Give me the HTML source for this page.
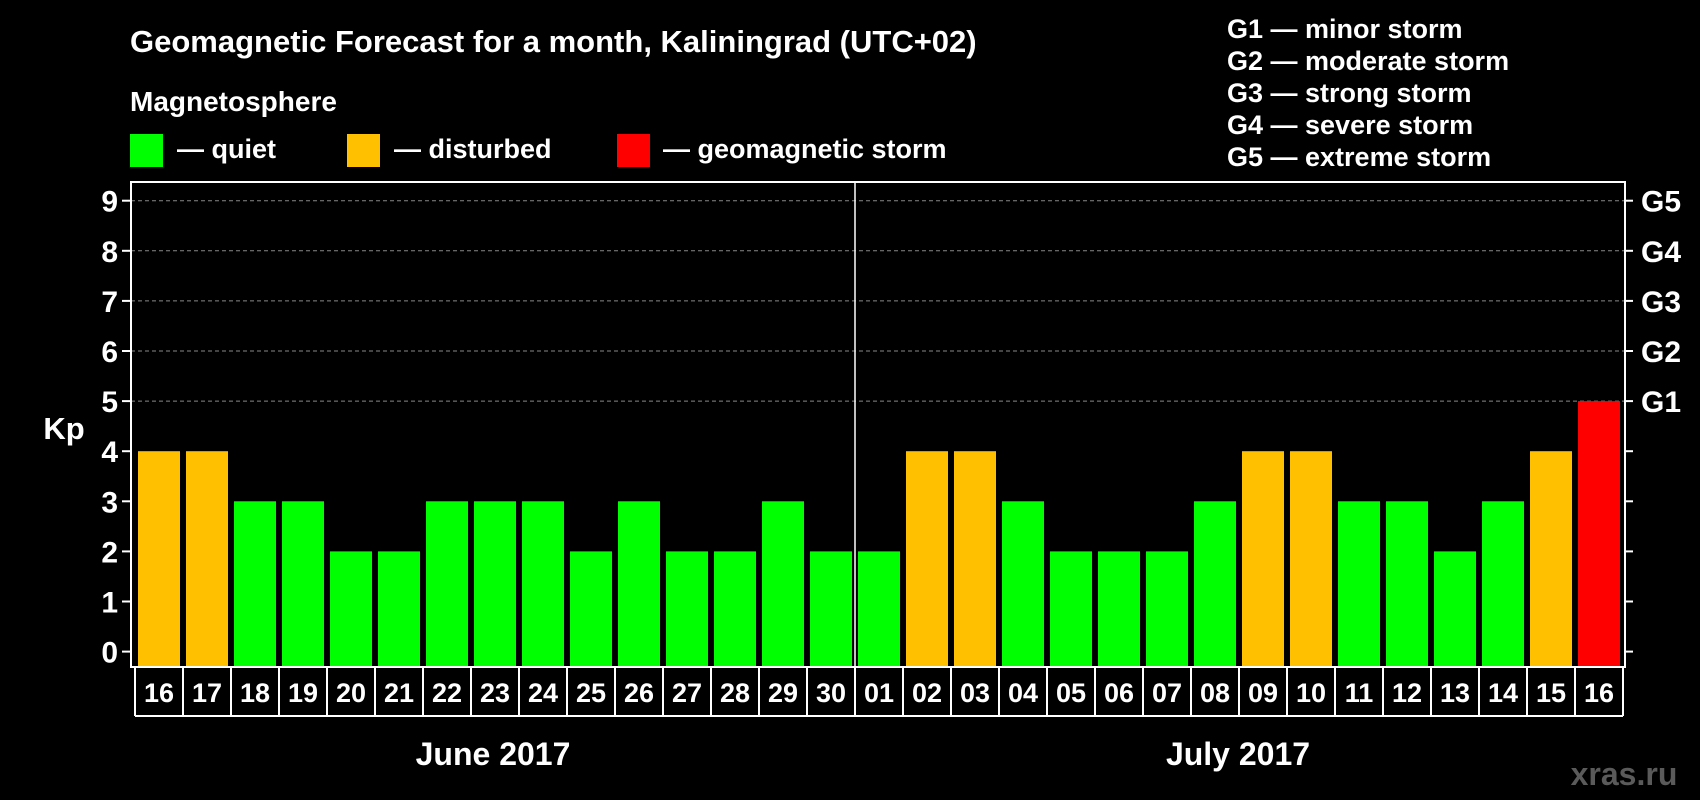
<!DOCTYPE html>
<html><head><meta charset="utf-8"><style>
body{margin:0;background:#000;width:1700px;height:800px;overflow:hidden}
svg{display:block}
text{font-family:"Liberation Sans",Arial,sans-serif;font-weight:bold;fill:#fff}
</style></head><body>
<svg id="chart" width="1700" height="800">
<text x="130" y="52" font-size="31">Geomagnetic Forecast for a month, Kaliningrad (UTC+02)</text>
<text x="130" y="111" font-size="28">Magnetosphere</text>
<rect x="130" y="134" width="33" height="33" fill="#00ff00"/>
<text x="177" y="158" font-size="27">— quiet</text>
<rect x="347" y="134" width="33" height="33" fill="#ffc000"/>
<text x="394" y="158" font-size="27">— disturbed</text>
<rect x="617" y="134" width="33" height="33" fill="#ff0000"/>
<text x="663" y="158" font-size="27">— geomagnetic storm</text>
<g font-size="27">
<text x="1227" y="38">G1 — minor storm</text>
<text x="1227" y="70">G2 — moderate storm</text>
<text x="1227" y="102">G3 — strong storm</text>
<text x="1227" y="134">G4 — severe storm</text>
<text x="1227" y="166">G5 — extreme storm</text>
</g>
<text x="64" y="439" font-size="31" text-anchor="middle">Kp</text>
<g id="plot"></g>
<text x="493" y="765" font-size="32" text-anchor="middle">June 2017</text>
<text x="1238" y="765" font-size="32" text-anchor="middle">July 2017</text>
<text x="1624" y="785" font-size="32" text-anchor="middle" style="fill:#5a5a5a">xras.ru</text>
</svg>
<script>
const days=["16","17","18","19","20","21","22","23","24","25","26","27","28","29","30","01","02","03","04","05","06","07","08","09","10","11","12","13","14","15","16"];
const kpValues=[4,4,3,3,2,2,3,3,3,2,3,2,2,3,2,2,4,4,3,2,2,2,3,4,4,3,3,2,3,4,5];
const yTicks=[0,1,2,3,4,5,6,7,8,9];
const gLabels=["G1","G2","G3","G4","G5"];
const NS="http://www.w3.org/2000/svg";
const g=document.getElementById('plot');
const L=131,R=1625,T=182,B=667,X0=135,STEP=48;
const y=v=>651.6-v*50.1;
const xs=i=>X0+i*STEP;
function mk(t,a){const e=document.createElementNS(NS,t);for(const k in a)e.setAttribute(k,a[k]);g.appendChild(e);return e;}
yTicks.forEach(v=>{
  if(v>=5){const l=mk('line',{x1:L,x2:R,y1:y(v),y2:y(v),stroke:'#888','stroke-width':1,'stroke-dasharray':'4,3'});
  
  }
  mk('line',{x1:122,x2:L,y1:y(v),y2:y(v),stroke:'#fff','stroke-width':2});
  mk('line',{x1:R,x2:1633,y1:y(v),y2:y(v),stroke:'#fff','stroke-width':2});
  const t=mk('text',{x:118,y:y(v)+11,'font-size':30,'text-anchor':'end'});t.textContent=v;
  
  
});
gLabels.forEach((s,i)=>{const t=mk('text',{x:1641,y:y(5+i)+11,'font-size':30});t.textContent=s;
  
  });
kpValues.forEach((v,i)=>{
  const c=v>=5?'#ff0000':v>=4?'#ffc000':'#00ff00';
  const r=mk('rect',{x:xs(i)+3,y:y(v),width:42,height:666-y(v),fill:c});
  
  
  const t=mk('text',{x:xs(i)+STEP/2,y:702,'font-size':27,'text-anchor':'middle'});t.textContent=days[i];
  
  
  mk('line',{x1:xs(i),x2:xs(i),y1:668,y2:716,stroke:'#fff','stroke-width':2});
});
mk('line',{x1:xs(days.length),x2:xs(days.length),y1:668,y2:716,stroke:'#fff','stroke-width':2});
mk('line',{x1:X0,x2:xs(days.length),y1:716,y2:716,stroke:'#fff','stroke-width':2});
const fr=mk('rect',{x:L,y:T,width:R-L,height:B-T,fill:'none',stroke:'#fff','stroke-width':2});


mk('line',{x1:xs(15),x2:xs(15),y1:T,y2:B,stroke:'#fff','stroke-width':1.5});
</script>
</body></html>
